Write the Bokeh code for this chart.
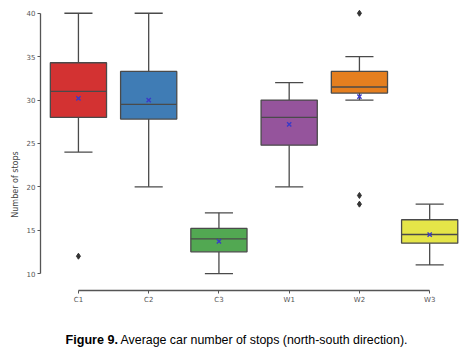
from bokeh.plotting import figure
from bokeh.models import FixedTicker, Label, Range1d
from bokeh.embed import file_html
from bokeh.resources import INLINE

cats = ["C1", "C2", "C3", "W1", "W2", "W3"]
lower = [24, 20, 10, 20, 30, 11]
q1 = [28.0, 27.8, 12.5, 24.8, 30.8, 13.5]
median = [31.0, 29.5, 14.0, 28.0, 31.5, 14.5]
q3 = [34.3, 33.3, 15.2, 30.0, 33.3, 16.2]
upper = [40, 40, 17, 32, 35, 18]
mean = [30.2, 30.0, 13.7, 27.2, 30.4, 14.5]
outlier_cat = ["C1", "W2", "W2", "W2"]
outlier_val = [12, 40, 19, 18]
colors = ["#d33232", "#3f7cb5", "#52a852", "#95549c", "#e57f1f", "#e5e548"]
y_ticks = [10, 15, 20, 25, 30, 35, 40]

xpos = list(range(len(cats)))
ox = [cats.index(c) for c in outlier_cat]
box_w = 0.8
cap_w = 0.4

EDGE = "#4a4a4a"
FONT = "DejaVu Sans"

p = figure(width=470, height=360, output_backend="svg", toolbar_location=None,
           x_range=Range1d(-0.54, 5.51), y_range=Range1d(-0.02, 40.55),
           min_border_left=40, min_border_right=5, min_border_top=8, min_border_bottom=0)
p.grid.visible = False
p.outline_line_color = None
p.background_fill_color = "white"

# whiskers
p.segment(x0=xpos, y0=q3, x1=xpos, y1=upper, line_color=EDGE, line_width=1.3)
p.segment(x0=xpos, y0=q1, x1=xpos, y1=lower, line_color=EDGE, line_width=1.3)
p.segment(x0=[x - cap_w / 2 for x in xpos], y0=upper, x1=[x + cap_w / 2 for x in xpos], y1=upper,
          line_color=EDGE, line_width=1.3)
p.segment(x0=[x - cap_w / 2 for x in xpos], y0=lower, x1=[x + cap_w / 2 for x in xpos], y1=lower,
          line_color=EDGE, line_width=1.3)
# boxes
p.vbar(x=xpos, width=box_w, bottom=q1, top=q3, fill_color=colors, line_color=EDGE, line_width=1.3)
# medians
p.segment(x0=[x - box_w / 2 for x in xpos], y0=median, x1=[x + box_w / 2 for x in xpos], y1=median,
          line_color=EDGE, line_width=1.3)
# means
p.scatter(x=xpos, y=mean, marker="x", size=6, line_color="#3a3ac8", line_width=1.4)
# outliers
p.scatter(x=ox, y=outlier_val, marker="diamond", size=6, fill_color="#333333", line_color="#333333")

# axes
p.yaxis.ticker = FixedTicker(ticks=y_ticks)
p.yaxis.bounds = (10, 40)
p.yaxis.axis_label = "Number of stops"
p.xaxis.ticker = FixedTicker(ticks=xpos)
p.xaxis.major_label_overrides = {i: c for i, c in enumerate(cats)}
p.xaxis.bounds = (0, 5)
p.xaxis.fixed_location = 8.04
for ax in (p.xaxis, p.yaxis):
    ax.axis_line_color = "#555555"
    ax.axis_line_width = 1.3
    ax.major_tick_line_color = "#555555"
    ax.major_tick_out = 3
    ax.major_tick_in = 0
    ax.minor_tick_line_color = None
    ax.major_label_text_font = FONT
    ax.major_label_text_font_size = "7px"
    ax.major_label_text_color = "#555555"
    ax.major_label_standoff = 2
    ax.axis_label_text_font = FONT
    ax.axis_label_text_font_size = "8px"
    ax.axis_label_text_font_style = "normal"
    ax.axis_label_text_color = "#444444"
    ax.axis_label_standoff = 4

# caption
p.add_layout(Label(x=25, y=21, x_units="screen", y_units="screen", text="Figure 9.",
                   text_font="Liberation Sans", text_font_size="12.6px", text_font_style="bold",
                   text_color="#000000", text_baseline="middle"))
p.add_layout(Label(x=80, y=21, x_units="screen", y_units="screen",
                   text="Average car number of stops (north-south direction).",
                   text_font="Liberation Sans", text_font_size="12.4px", text_color="#000000",
                   text_baseline="middle"))

open("out.html", "w").write(file_html(p, INLINE))
